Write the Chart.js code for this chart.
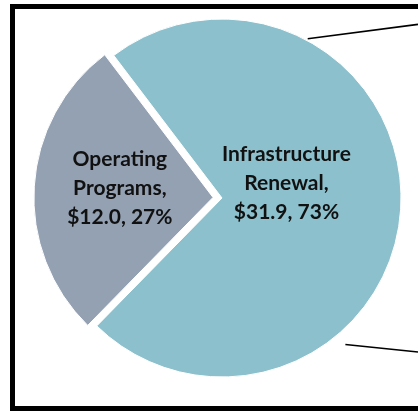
<!DOCTYPE html>
<html>
<head>
<meta charset="utf-8">
<script src="https://cdn.jsdelivr.net/npm/chart.js@4/dist/chart.umd.min.js"></script>
<style>
  html, body { margin: 0; padding: 0; background: #fff; overflow: hidden; }
  #wrap { position: relative; width: 418px; height: 411px; overflow: hidden; }
  #frame {
    position: absolute; left: 10px; top: 4px;
    width: 600px; height: 397px;
    border: 5px solid #000;
  }
  #chart { position: absolute; left: 0; top: 0; }
</style>
</head>
<body>
<div id="wrap">
  <div id="frame"></div>
  <canvas id="chart" width="440" height="411"></canvas>
</div>
<script>
// chart values
const categories = ["Infrastructure Renewal", "Operating Programs"];
const labelLines = [["Infrastructure", "Renewal,"], ["Operating", "Programs,"]];
const values = [31.9, 12.0];
const colors = ["#8cc0cd", "#94a1b3"];

const total = values.reduce((a, b) => a + b, 0);

// same shift Chart.js applies to an exploded arc when drawing it
function arcShift(arc) {
    const p = arc.getProps(["startAngle", "endAngle", "circumference"], true);
    const off = (arc.options.offset || 0) / 4;
    const fix = 1 - Math.sin(Math.min(Math.PI, p.circumference || 0));
    const mid = (p.startAngle + p.endAngle) / 2;
    return { x: Math.cos(mid) * off * (1 + fix), y: Math.sin(mid) * off * (1 + fix) };
}

// data labels inside each slice
const sliceLabels = {
    id: "sliceLabels",
    afterDatasetsDraw(chart, args, opts) {
        const ctx = chart.ctx;
        const arcs = chart.getDatasetMeta(0).data;
        ctx.save();
        ctx.fillStyle = "#111";
        ctx.font = "bold 21px Lato, 'Open Sans', sans-serif";
        ctx.textAlign = "center";
        ctx.textBaseline = "middle";
        arcs.forEach(function (arc, i) {
            const p = arc.getProps(["x", "y", "outerRadius"], true);
            const s = arcShift(arc);
            const cx = p.x + s.x + opts.shift[i][0] * p.outerRadius;
            const cy = p.y + s.y + opts.shift[i][1] * p.outerRadius;
            const pct = Math.round(values[i] / total * 100);
            const lines = labelLines[i].concat(["$" + values[i].toFixed(1) + ", " + pct + "%"]);
            const lh = 29;
            lines.forEach(function (t, k) {
                ctx.fillText(t, cx, cy + (k - (lines.length - 1) / 2) * lh);
            });
        });
        ctx.restore();
    }
};

// connector lines running from the big slice out to the right edge
const connectors = {
    id: "connectors",
    afterDatasetsDraw(chart, args, opts) {
        const ctx = chart.ctx;
        const arc = chart.getDatasetMeta(0).data[0];
        const p = arc.getProps(["x", "y", "outerRadius"], true);
        const s = arcShift(arc);
        const cx = p.x + s.x;
        const cy = p.y + s.y;
        ctx.save();
        ctx.strokeStyle = "#000";
        ctx.lineWidth = 1.6;
        opts.lines.forEach(function (l) {
            const a = (l.angle - 90) * Math.PI / 180;
            const r = p.outerRadius * l.r;
            ctx.beginPath();
            ctx.moveTo(cx + Math.cos(a) * r, cy + Math.sin(a) * r);
            ctx.lineTo(opts.endX, cy + l.endY * p.outerRadius);
            ctx.stroke();
        });
        ctx.restore();
    }
};

const ctx = document.getElementById("chart").getContext("2d");
const myChart = new Chart(ctx, {
    type: "pie",
    data: {
        labels: categories,
        datasets: [{
            data: values,
            backgroundColor: colors,
            borderColor: "#fff",
            borderWidth: 1,
            offset: [0, 36]
        }]
    },
    options: {
        responsive: false,
        animation: false,
        rotation: -37.2,
        layout: { padding: { left: 24.5, right: 20.5, top: 0.5, bottom: 15.5 } },
        plugins: {
            legend: { display: false },
            tooltip: { enabled: false },
            sliceLabels: { shift: [[0.36, -0.08], [-0.52, -0.05]] },
            connectors: {
                endX: 418,
                lines: [
                    { angle: 28.3, r: 1.01, endY: -0.97 },
                    { angle: 139.9, r: 1.07, endY: 0.86 }
                ]
            }
        }
    },
    plugins: [sliceLabels, connectors]
});
</script>
</body>
</html>
